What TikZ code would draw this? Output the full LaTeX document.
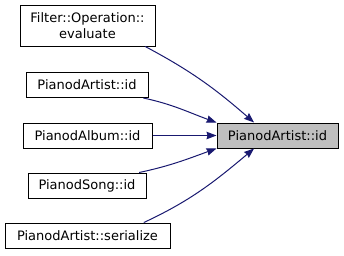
\documentclass[tikz,border=0pt]{standalone}
\usepackage{fontspec}
\setmainfont{DejaVu Sans}
\usepackage{tikz}
\usetikzlibrary{arrows.meta, positioning}
\definecolor{edgeblue}{HTML}{191970}
\definecolor{hilite}{HTML}{BFBFBF}

\begin{document}
\begin{tikzpicture}[
    x=1pt, y=-1pt,
    box/.style={draw=black, line width=1pt, fill=white, minimum height=25pt, inner sep=0pt, align=center, font=\fontsize{13}{16.5}\selectfont},
    arr/.style={{Stealth[length=10pt,width=7.5pt,inset=1pt]}-, line width=1pt, edgeblue}
]
\useasboundingbox (0,0) rectangle (344,255);
\node[box, fill=hilite, minimum width=121pt] (target) at (277.5,135.5) {PianodArtist::id};
\node[box, minimum width=135pt, minimum height=41pt] (filter) at (87.5,25.5) {Filter::Operation::\\evaluate};
\node[box, minimum width=122pt] (artist) at (87,85) {PianodArtist::id};
\node[box, minimum width=129pt] (album) at (87.5,135.5) {PianodAlbum::id};
\node[box, minimum width=118pt] (song) at (87,185.5) {PianodSong::id};
\node[box, minimum width=165pt] (serialize) at (87.5,235.5) {PianodArtist::serialize};

\draw[arr] (target.151) to[out=139, in=-28] (filter.-20);
\draw[arr] (target.168) to[out=160, in=-12] (artist.-13);
\draw[arr] (target.west) -- (album.east);
\draw[arr] (target.192) to[out=-160, in=12] (song.14);
\draw[arr] (target.209) to[out=-140, in=25] (serialize.13);
\end{tikzpicture}
\end{document}
